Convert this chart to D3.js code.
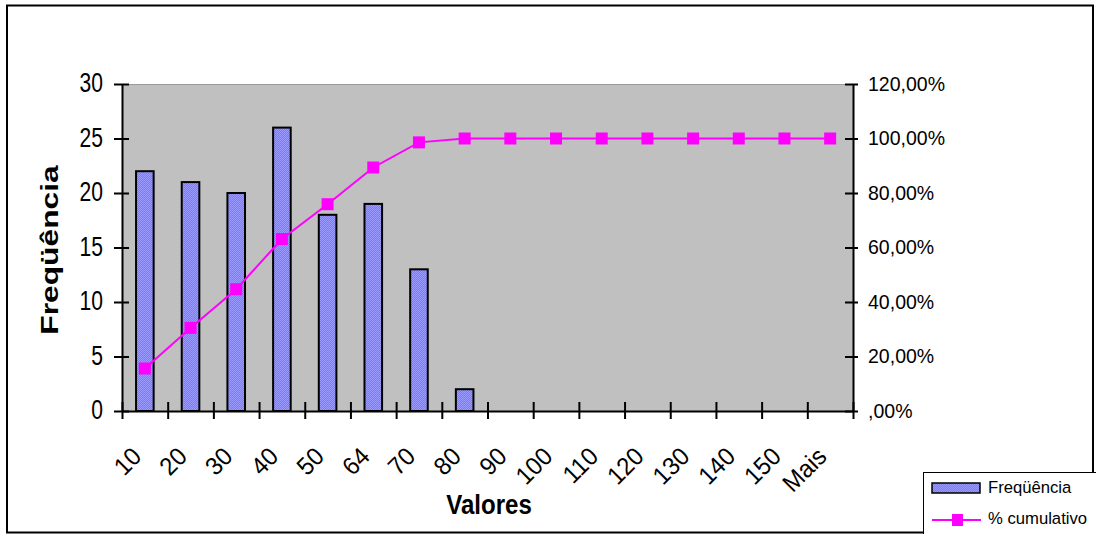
<!DOCTYPE html>
<html>
<head>
<meta charset="utf-8">
<script src="https://cdn.jsdelivr.net/npm/d3@7"></script>
<style>
  html, body { margin: 0; padding: 0; background: #fff; }
  svg { display: block; }
  text { font-family: "Liberation Sans", Arial, sans-serif; fill: #000; }
</style>
</head>
<body>
<svg id="chart" width="1096" height="534"></svg>
<script>
// ---- data ----
const categories = ["10","20","30","40","50","64","70","80","90","100","110","120","130","140","150","Mais"];
const frequencia = [22,21,20,26,18,19,13,2,0,0,0,0,0,0,0,0];
const cumulativo = [15.60,30.50,44.68,63.12,75.89,89.36,98.58,100,100,100,100,100,100,100,100,100];
const leftTicks = [0,5,10,15,20,25,30];
const rightTicks = [0,20,40,60,80,100,120];
const rightTickLabels = [",00%","20,00%","40,00%","60,00%","80,00%","100,00%","120,00%"];
const seriesNames = ["Freqüência","% cumulativo"];
const xTitle = "Valores";
const yTitle = "Freqüência";

// ---- layout ----
const svg = d3.select("#chart");
const plot = {left: 122, right: 853, top: 84, bottom: 411};

const defs = svg.append("defs");
const pat = defs.append("pattern").attr("id","barpat").attr("patternUnits","userSpaceOnUse")
  .attr("width",2).attr("height",2);
pat.append("rect").attr("width",2).attr("height",2).attr("fill","#7a7aff");
pat.append("rect").attr("width",1).attr("height",1).attr("fill","#9b9bff");
pat.append("rect").attr("x",1).attr("y",1).attr("width",1).attr("height",1).attr("fill","#9b9bff");

// outer border
svg.append("rect").attr("x",7).attr("y",5.5).attr("width",1086).attr("height",527)
  .attr("fill","#fff").attr("stroke","#000").attr("stroke-width",2);

// scales
const padInner = 0.615;
const x = d3.scaleBand().domain(categories).range([plot.left, plot.right])
  .paddingInner(padInner).paddingOuter(padInner/2);
const xb = d3.scaleLinear().domain([0, categories.length]).range([plot.left, plot.right]);
const yL = d3.scaleLinear().domain([0,30]).range([plot.bottom, plot.top]);
const yR = d3.scaleLinear().domain([0,120]).range([plot.bottom, plot.top]);

// plot background
svg.append("rect").attr("x",plot.left).attr("y",plot.top)
  .attr("width",plot.right-plot.left).attr("height",plot.bottom-plot.top)
  .attr("fill","#c0c0c0");
svg.append("line").attr("x1",plot.left).attr("x2",plot.right).attr("y1",plot.top+0.5).attr("y2",plot.top+0.5)
  .attr("stroke","#9a9a9a").attr("stroke-width",1);

// bars
svg.append("g").selectAll("rect").data(frequencia.map((v,i)=>({c:categories[i],v})).filter(d=>d.v>0))
  .join("rect")
  .attr("x", d=>x(d.c)).attr("width", x.bandwidth())
  .attr("y", d=>yL(d.v)).attr("height", d=>yL(0)-yL(d.v))
  .attr("fill","url(#barpat)").attr("stroke","#000").attr("stroke-width",2);

// helper for condensed text
function ctext(g, str, tx, ty, opts) {
  const o = Object.assign({sx:1, sy:1, rot:0, anchor:"start", size:20, weight:"normal", baseline:"middle"}, opts||{});
  return g.append("text")
    .attr("transform", `translate(${tx},${ty}) rotate(${o.rot}) scale(${o.sx},${o.sy})`)
    .attr("text-anchor", o.anchor).attr("dominant-baseline", o.baseline)
    .attr("font-size", o.size).attr("font-weight", o.weight)
    .text(str);
}

// left axis
const axL = svg.append("g").attr("transform",`translate(${plot.left},0)`)
  .call(d3.axisLeft(yL).tickValues(leftTicks).tickFormat("").tickSizeOuter(0));
axL.select(".domain").attr("stroke","#000").attr("stroke-width",2);
axL.selectAll(".tick line").attr("x1",7).attr("x2",-8).attr("stroke","#000").attr("stroke-width",2);
leftTicks.forEach(v => ctext(svg, String(v), 103, yL(v)+1, {anchor:"end", size:27, sx:0.78}));

// right axis
const axR = svg.append("g").attr("transform",`translate(${plot.right},0)`)
  .call(d3.axisRight(yR).tickValues(rightTicks).tickFormat("").tickSizeOuter(0));
axR.select(".domain").attr("stroke","#000").attr("stroke-width",2);
axR.selectAll(".tick line").attr("x1",-8).attr("x2",5).attr("stroke","#000").attr("stroke-width",2);
rightTicks.forEach((v,i) => ctext(svg, rightTickLabels[i], 868, yR(v)+1, {anchor:"start", size:21, sx:0.93}));

// bottom axis
const axB = svg.append("g").attr("transform",`translate(0,${plot.bottom})`)
  .call(d3.axisBottom(xb).tickValues(d3.range(0, categories.length+1)).tickFormat("").tickSizeOuter(0));
axB.select(".domain").attr("stroke","#000").attr("stroke-width",2);
axB.selectAll(".tick line").attr("y1",-9).attr("y2",8).attr("stroke","#000").attr("stroke-width",2);
categories.forEach(c => ctext(svg, c, x(c)+x.bandwidth()/2-2, 458, {anchor:"end", size:25, rot:-45, sx:0.95, baseline:"alphabetic"}));

// cumulative line
const line = d3.line().x((d,i)=>x(categories[i])+x.bandwidth()/2).y(d=>yR(d));
svg.append("path").datum(cumulativo).attr("d", line)
  .attr("fill","none").attr("stroke","#ff00ff").attr("stroke-width",2);
svg.append("g").selectAll("rect").data(cumulativo).join("rect")
  .attr("x",(d,i)=>x(categories[i])+x.bandwidth()/2-6).attr("y",d=>yR(d)-6)
  .attr("width",12).attr("height",12).attr("fill","#ff00ff");

// titles
ctext(svg, xTitle, 489, 507, {anchor:"middle", size:28, weight:"bold", sx:0.86});
ctext(svg, yTitle, 52, 250, {anchor:"middle", size:25, weight:"bold", rot:-90, sx:1.27, sy:0.92});

// legend
const lg = svg.append("g");
lg.append("rect").attr("x",923.5).attr("y",472.5).attr("width",200).attr("height",80)
  .attr("fill","#fff").attr("stroke","#000").attr("stroke-width",1);
lg.append("rect").attr("x",932).attr("y",483).attr("width",48).attr("height",10)
  .attr("fill","url(#barpat)").attr("stroke","#000").attr("stroke-width",1.5);
ctext(lg, seriesNames[0], 988, 489, {size:17, sx:0.98});
lg.append("line").attr("x1",932).attr("x2",981).attr("y1",520).attr("y2",520)
  .attr("stroke","#ff00ff").attr("stroke-width",2);
lg.append("rect").attr("x",952).attr("y",514).attr("width",11).attr("height",12).attr("fill","#ff00ff");
ctext(lg, seriesNames[1], 988, 520, {size:17, sx:0.98});
</script>
</body>
</html>
